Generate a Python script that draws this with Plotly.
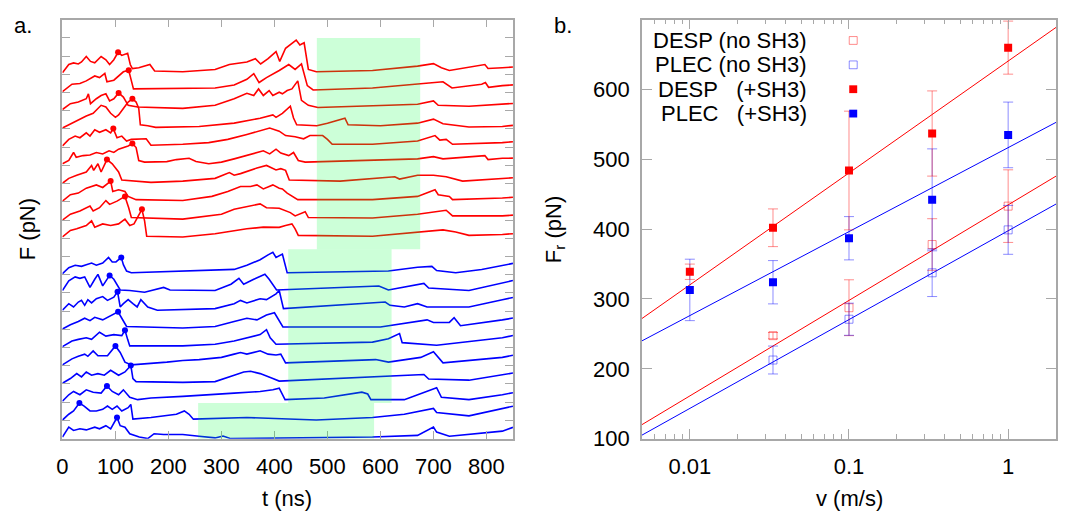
import plotly.graph_objects as go

# ---------------- panel a: stacked force traces (t in ns, F in tick units) ----------------
R9_t = [0, 12, 21, 30, 36, 45, 53, 61, 73, 82, 89, 97, 105, 112, 123, 128, 132, 144, 165, 174, 227, 288, 315, 348, 364, 374, 388, 403, 410, 421, 441, 448, 456, 464, 479, 585, 670, 700, 715, 730, 797, 803, 830, 850]
R9_f = [0.09, 0.54, 0.63, 0.57, 0.68, 0.98, 0.71, 0.63, 0.98, 0.80, 0.54, 0.80, 1.21, 1.04, 1.16, 0.54, 0.32, 0.36, 0.54, 0.18, 0.14, 0.27, 0.54, 0.68, 0.86, 0.57, 0.86, 1.25, 0.71, 1.43, 1.88, 1.61, 1.73, 0.27, 0.14, 0.21, 0.45, 0.59, 0.36, 0.21, 0.54, 0.32, 0.36, 0.40]
R8_t = [0, 18, 33, 45, 61, 70, 80, 84, 97, 115, 125, 134, 288, 324, 348, 361, 371, 385, 409, 427, 439, 451, 462, 473, 585, 664, 718, 735, 791, 798, 804, 830, 850]
R8_f = [0.05, 0.46, 0.50, 0.64, 0.91, 0.82, 1.05, 0.59, 0.68, 1.14, 1.23, 0.20, 0.25, 0.41, 0.73, 1.04, 0.55, 0.82, 1.21, 1.54, 1.27, 1.57, 0.38, 0.14, 0.25, 0.46, 0.59, 0.25, 0.46, 0.55, 0.29, 0.38, 0.42]
R7_t = [0, 15, 30, 45, 49, 53, 64, 73, 82, 89, 97, 106, 115, 124, 142, 227, 288, 324, 348, 361, 370, 379, 390, 397, 409, 415, 424, 433, 444, 451, 464, 482, 615, 670, 700, 709, 767, 830, 850]
R7_f = [0.07, 0.39, 0.48, 0.66, 0.93, 0.39, 0.66, 0.84, 0.93, 0.54, 0.66, 0.98, 0.75, 0.30, 0.21, 0.13, 0.30, 0.66, 0.96, 0.84, 1.20, 0.84, 1.11, 0.84, 1.02, 0.93, 1.11, 1.20, 1.64, 0.57, 0.30, 0.18, 0.30, 0.36, 0.54, 0.30, 0.25, 0.36, 0.40]
R6_t = [0, 18, 33, 45, 58, 73, 82, 91, 100, 106, 115, 124, 132, 139, 144, 147, 161, 176, 258, 324, 373, 397, 403, 415, 430, 436, 442, 480, 500, 533, 539, 600, 670, 700, 718, 767, 830, 850]
R6_f = [0.05, 0.32, 0.50, 0.71, 0.86, 1.30, 1.21, 0.86, 0.64, 0.77, 1.13, 1.48, 1.66, 1.48, 1.13, 0.23, 0.18, 0.09, 0.14, 0.32, 0.59, 0.77, 0.64, 0.86, 1.25, 0.60, 0.23, 0.18, 0.32, 0.59, 0.23, 0.18, 0.32, 0.54, 0.29, 0.11, 0.14, 0.20]
R5_t = [0, 12, 24, 33, 45, 52, 61, 70, 82, 91, 96, 103, 112, 121, 130, 142, 158, 167, 227, 276, 312, 348, 373, 391, 409, 421, 439, 455, 467, 491, 500, 509, 585, 670, 703, 712, 724, 736, 830, 850]
R5_f = [0.07, 0.43, 0.61, 0.52, 0.79, 0.61, 0.96, 0.82, 0.96, 0.79, 1.02, 0.52, 0.61, 0.34, 0.43, 0.43, 0.46, 0.11, 0.16, 0.25, 0.43, 0.70, 0.88, 1.05, 0.88, 0.64, 0.57, 0.46, 0.64, 0.64, 0.43, 0.16, 0.16, 0.34, 0.64, 0.39, 0.43, 0.16, 0.25, 0.30]
R4_t = [0, 12, 21, 26, 39, 52, 64, 76, 88, 97, 106, 115, 124, 132, 139, 144, 155, 197, 215, 239, 252, 276, 300, 324, 348, 379, 391, 403, 412, 427, 436, 445, 458, 585, 670, 700, 718, 797, 803, 830, 850]
R4_f = [0.09, 0.27, 0.71, 0.45, 0.54, 0.57, 0.71, 0.63, 0.80, 0.71, 0.89, 0.98, 1.07, 1.20, 0.98, 0.27, 0.18, 0.21, 0.32, 0.39, 0.21, 0.09, 0.18, 0.36, 0.54, 0.80, 0.63, 0.89, 0.68, 0.54, 0.71, 0.27, 0.18, 0.27, 0.36, 0.48, 0.36, 0.54, 0.32, 0.39, 0.40]
R3_t = [0, 12, 27, 45, 55, 59, 67, 73, 84, 94, 106, 112, 167, 227, 288, 315, 324, 336, 367, 385, 403, 412, 421, 428, 524, 627, 636, 670, 700, 724, 755, 830, 850]
R3_f = [0.02, 0.29, 0.46, 0.64, 1.00, 0.73, 1.09, 0.64, 1.32, 1.09, 0.64, 0.20, 0.07, 0.14, 0.29, 0.61, 0.46, 0.55, 0.86, 1.00, 0.75, 0.82, 0.73, 0.20, 0.14, 0.38, 0.25, 0.46, 0.46, 0.38, 0.14, 0.29, 0.32]
R2_t = [0, 15, 30, 45, 64, 76, 91, 95, 106, 118, 124, 139, 227, 282, 312, 336, 355, 367, 379, 397, 409, 415, 424, 444, 585, 670, 703, 709, 730, 736, 830, 850]
R2_f = [0.04, 0.39, 0.48, 0.75, 0.93, 0.79, 1.14, 0.57, 0.66, 0.57, 0.30, 0.12, 0.07, 0.30, 0.57, 0.84, 0.84, 0.93, 0.71, 0.93, 0.75, 0.71, 0.48, 0.12, 0.12, 0.30, 0.66, 0.39, 0.30, 0.12, 0.21, 0.25]
R1_t = [0, 15, 33, 52, 58, 70, 82, 89, 103, 118, 125, 130, 227, 300, 324, 355, 373, 385, 409, 430, 439, 458, 464, 585, 670, 724, 736, 830, 850]
R1_f = [0.00, 0.32, 0.50, 0.77, 0.50, 0.68, 1.07, 0.86, 1.04, 1.30, 0.68, 0.14, 0.05, 0.32, 0.59, 0.77, 0.89, 0.68, 0.65, 0.41, 0.23, 0.46, 0.14, 0.11, 0.32, 0.54, 0.23, 0.23, 0.27]
R0_t = [0, 15, 27, 45, 55, 61, 76, 91, 106, 118, 127, 135, 150, 155, 159, 227, 288, 348, 379, 409, 421, 433, 439, 445, 585, 670, 718, 742, 767, 830, 850]
R0_f = [0.07, 0.43, 0.52, 0.70, 0.96, 0.61, 0.79, 0.70, 0.79, 1.05, 0.70, 0.79, 1.59, 0.96, 0.11, 0.07, 0.25, 0.52, 0.61, 0.60, 0.70, 0.79, 0.52, 0.16, 0.11, 0.34, 0.46, 0.34, 0.16, 0.21, 0.25]

B9_t = [0, 12, 24, 36, 45, 55, 64, 76, 87, 94, 101, 111, 115, 121, 130, 227, 324, 348, 373, 388, 397, 403, 415, 424, 615, 670, 697, 706, 742, 791, 830, 850]
B9_f = [0.05, 0.38, 0.52, 0.46, 0.55, 0.64, 0.52, 0.64, 0.95, 0.70, 0.70, 0.95, 0.55, 0.20, 0.11, 0.20, 0.29, 0.52, 0.82, 1.09, 1.23, 0.95, 1.13, 0.11, 0.20, 0.41, 0.46, 0.23, 0.11, 0.29, 0.52, 0.62]
B8_t = [0, 12, 24, 33, 42, 52, 61, 67, 76, 89, 97, 109, 127, 155, 191, 203, 288, 318, 333, 342, 361, 382, 390, 404, 597, 615, 682, 691, 767, 830, 850]
B8_f = [0.13, 0.66, 0.88, 0.80, 0.88, 0.30, 0.75, 1.02, 0.39, 0.96, 0.75, 0.16, 0.13, 0.04, 0.30, 0.16, 0.13, 0.48, 0.80, 0.48, 0.75, 1.02, 0.75, 0.16, 0.38, 0.16, 0.52, 0.27, 0.13, 0.55, 0.68]
B7_t = [0, 12, 21, 30, 36, 42, 48, 55, 64, 76, 85, 97, 104, 109, 115, 124, 133, 141, 148, 161, 179, 288, 324, 336, 348, 373, 385, 403, 409, 417, 609, 618, 645, 670, 688, 767, 830, 850]
B7_f = [0.05, 0.41, 0.23, 0.50, 0.59, 0.32, 0.63, 0.45, 0.68, 0.80, 0.59, 0.77, 1.07, 0.23, 0.41, 0.63, 0.41, 0.23, 0.63, 0.23, 0.05, 0.14, 0.41, 0.59, 0.45, 0.68, 0.63, 0.95, 1.13, 0.14, 0.50, 0.32, 0.23, 0.41, 0.23, 0.23, 0.63, 0.75]
B6_t = [0, 15, 30, 42, 52, 61, 76, 91, 105, 112, 121, 227, 288, 324, 348, 367, 385, 400, 409, 416, 600, 688, 700, 730, 739, 751, 830, 850]
B6_f = [0.02, 0.25, 0.43, 0.61, 0.48, 0.66, 0.52, 0.73, 0.96, 0.61, 0.16, 0.07, 0.16, 0.43, 0.61, 0.52, 0.79, 0.91, 0.48, 0.13, 0.13, 0.52, 0.38, 0.38, 0.64, 0.20, 0.52, 0.62]
B5_t = [0, 18, 30, 45, 55, 70, 82, 97, 112, 118, 123, 127, 227, 288, 324, 348, 373, 385, 392, 403, 585, 615, 636, 641, 706, 830, 850]
B5_f = [0.05, 0.36, 0.45, 0.54, 0.45, 0.84, 0.63, 0.71, 0.66, 0.95, 0.45, 0.09, 0.09, 0.18, 0.36, 0.54, 0.71, 0.98, 0.54, 0.18, 0.30, 0.48, 0.77, 0.27, 0.13, 0.54, 0.66]
B4_t = [0, 18, 30, 42, 48, 58, 67, 85, 100, 109, 118, 130, 197, 227, 258, 300, 324, 336, 348, 373, 388, 403, 412, 421, 591, 615, 676, 700, 718, 830, 850]
B4_f = [0.05, 0.38, 0.52, 0.64, 0.52, 0.82, 0.55, 0.55, 1.09, 0.73, 0.20, 0.05, 0.20, 0.29, 0.34, 0.46, 0.64, 0.73, 0.64, 0.82, 0.64, 0.59, 0.64, 0.16, 0.34, 0.20, 0.46, 0.77, 0.16, 0.46, 0.58]
B3_t = [0, 15, 27, 36, 45, 55, 67, 79, 91, 106, 118, 129, 133, 139, 227, 288, 324, 342, 355, 373, 397, 409, 682, 691, 767, 830, 850]
B3_f = [0.04, 0.30, 0.57, 0.39, 0.66, 0.48, 0.57, 0.48, 0.75, 0.48, 0.66, 1.02, 0.30, 0.13, 0.09, 0.13, 0.48, 0.66, 0.70, 0.57, 0.30, 0.16, 0.52, 0.27, 0.21, 0.48, 0.60]
B2_t = [0, 12, 21, 33, 45, 58, 73, 84, 94, 106, 115, 127, 142, 167, 227, 288, 324, 373, 397, 409, 420, 494, 555, 565, 576, 582, 645, 706, 715, 767, 830, 850]
B2_f = [0.05, 0.41, 0.59, 0.41, 0.68, 0.55, 0.50, 0.89, 0.59, 0.41, 0.68, 0.27, 0.14, 0.23, 0.32, 0.41, 0.50, 0.59, 0.68, 0.77, 0.14, 0.23, 0.50, 0.55, 0.45, 0.14, 0.14, 0.80, 0.27, 0.14, 0.41, 0.52]
B1_t = [0, 12, 21, 32, 41, 52, 64, 76, 85, 94, 103, 112, 124, 129, 133, 167, 215, 230, 239, 247, 348, 479, 585, 645, 700, 706, 767, 830, 850]
B1_f = [0.02, 0.34, 0.52, 0.95, 0.79, 0.52, 0.52, 0.61, 0.79, 0.61, 0.79, 0.52, 0.70, 0.88, 0.07, 0.16, 0.34, 0.52, 0.34, 0.07, 0.16, 0.02, 0.16, 0.34, 0.66, 0.43, 0.25, 0.66, 0.78]
B0_t = [0, 12, 21, 33, 45, 61, 70, 82, 91, 103, 109, 118, 127, 145, 161, 173, 191, 227, 258, 288, 303, 318, 585, 670, 700, 706, 730, 830, 850]
B0_f = [0.09, 0.63, 0.45, 0.54, 0.48, 0.63, 0.54, 0.71, 0.54, 1.16, 0.71, 0.63, 0.27, 0.09, 0.00, 0.27, 0.23, 0.23, 0.13, 0.04, 0.14, 0.00, 0.09, 0.18, 0.63, 0.36, 0.13, 0.41, 0.62]

# vertical stacking offsets (bottom trace first)
red_offsets = [11, 12, 13, 14, 15, 16, 17, 18, 19, 20]
blue_offsets = [0, 1, 2, 3, 4, 5, 6, 7, 8, 9]

# rupture points marked with dots
red_dot_t = [150, 118, 91, 84, 132, 96, 132, 106, 125, 105]
red_dot_f = [1.59, 1.30, 1.14, 1.32, 1.20, 1.02, 1.66, 0.98, 1.23, 1.21]
blue_dot_t = [103, 32, 84, 129, 100, 118, 105, 104, 89, 111]
blue_dot_f = [1.16, 0.95, 0.89, 1.02, 1.09, 0.95, 0.96, 1.07, 0.96, 0.95]

# shaded windows: [t0, t1, F0, F1]
shade_red = [480, 675, 10.4, 22.0]
shade_blue1 = [426, 621, 1.96, 10.4]
shade_blue2 = [256, 588, 0.0, 1.96]

# ---------------- panel b: rupture force vs pulling speed ----------------
v_all = [0.01, 0.0333, 0.1, 0.333, 1]
v_nosh3 = [0.0333, 0.1, 0.333, 1]
desp_sh3 = [339, 402, 484, 537, 660]
desp_sh3_err = [11, 27, 85, 61, 38]
plec_sh3 = [313, 324, 387, 442, 535]
plec_sh3_err = [44, 31, 31, 73, 47]
desp_no = [247.5, 287.5, 378, 433]
desp_no_err = [4.5, 40, 37, 52]
plec_no = [212.6, 271, 337.5, 399]
plec_no_err = [20, 23, 34, 35]

fit_v = [0.005, 2]
fit_desp_sh3 = [272, 689]
fit_plec_sh3 = [240, 553]
fit_desp_no = [120, 476]
fit_plec_no = [105, 436]

# the page adds an 8px left margin; positions below are page pixels
OFF = 8
W, H = 1068 - OFF, 519
def fx(p):
    return (p - OFF) / W
def fy(p):
    return 1 - p / H

FONT = "Liberation Sans, Arial, sans-serif"
FS = 22
RED = "#ff0000"
BLUE = "#0000ff"
RED_L = "rgba(255,0,0,0.45)"
BLUE_L = "rgba(0,0,255,0.45)"
FRAME = "#a8a8a8"

red_traces = [(R0_t, R0_f), (R1_t, R1_f), (R2_t, R2_f), (R3_t, R3_f), (R4_t, R4_f),
              (R5_t, R5_f), (R6_t, R6_f), (R7_t, R7_f), (R8_t, R8_f), (R9_t, R9_f)]
blue_traces = [(B0_t, B0_f), (B1_t, B1_f), (B2_t, B2_f), (B3_t, B3_f), (B4_t, B4_f),
               (B5_t, B5_f), (B6_t, B6_f), (B7_t, B7_f), (B8_t, B8_f), (B9_t, B9_f)]

fig = go.Figure()

for (tt, ff), off in zip(red_traces, red_offsets):
    fig.add_trace(go.Scatter(x=tt, y=[f + off for f in ff], mode="lines",
                             line=dict(color=RED, width=1.6), xaxis="x", yaxis="y",
                             showlegend=False, hoverinfo="skip"))
for (tt, ff), off in zip(blue_traces, blue_offsets):
    fig.add_trace(go.Scatter(x=tt, y=[f + off for f in ff], mode="lines",
                             line=dict(color=BLUE, width=1.6), xaxis="x", yaxis="y",
                             showlegend=False, hoverinfo="skip"))

fig.add_trace(go.Scatter(x=red_dot_t, y=[f + o for f, o in zip(red_dot_f, red_offsets)],
                         mode="markers", marker=dict(color=RED, size=6),
                         xaxis="x", yaxis="y", showlegend=False))
fig.add_trace(go.Scatter(x=blue_dot_t, y=[f + o for f, o in zip(blue_dot_f, blue_offsets)],
                         mode="markers", marker=dict(color=BLUE, size=6),
                         xaxis="x", yaxis="y", showlegend=False))

# fit lines
for yy, col in [(fit_desp_sh3, RED), (fit_plec_sh3, BLUE), (fit_desp_no, RED), (fit_plec_no, BLUE)]:
    fig.add_trace(go.Scatter(x=fit_v, y=yy, mode="lines", line=dict(color=col, width=1),
                             xaxis="x2", yaxis="y2", showlegend=False, hoverinfo="skip"))

def err(arr, col):
    return dict(type="data", array=arr, visible=True, color=col, thickness=1, width=5)

fig.add_trace(go.Scatter(x=v_nosh3, y=desp_no, mode="markers", error_y=err(desp_no_err, RED_L),
                         marker=dict(symbol="square-open", size=8, color=RED_L, line=dict(width=1)),
                         xaxis="x2", yaxis="y2", showlegend=False))
fig.add_trace(go.Scatter(x=v_nosh3, y=plec_no, mode="markers", error_y=err(plec_no_err, BLUE_L),
                         marker=dict(symbol="square-open", size=8, color=BLUE_L, line=dict(width=1)),
                         xaxis="x2", yaxis="y2", showlegend=False))
fig.add_trace(go.Scatter(x=v_all, y=plec_sh3, mode="markers", error_y=err(plec_sh3_err, BLUE_L),
                         marker=dict(symbol="square", size=8, color=BLUE),
                         xaxis="x2", yaxis="y2", showlegend=False))
fig.add_trace(go.Scatter(x=v_all, y=desp_sh3, mode="markers", error_y=err(desp_sh3_err, RED_L),
                         marker=dict(symbol="square", size=8, color=RED),
                         xaxis="x2", yaxis="y2", showlegend=False))

shapes = []
for x0, x1, y0, y1 in [shade_red, shade_blue1, shade_blue2]:
    shapes.append(dict(type="rect", xref="x", yref="y", x0=x0, x1=x1, y0=y0, y1=y1,
                       fillcolor="rgb(0,255,60)", opacity=0.2, line=dict(width=0), layer="above"))

# hand-made key: text right-aligned, symbol to the right
key_text = ["DESP (no SH3)", "PLEC (no SH3)", "DESP\u00a0\u00a0\u00a0(+SH3)", "PLEC\u00a0\u00a0\u00a0(+SH3)"]
key_rows = [33.3, 58.3, 83.3, 108.3]
key_style = [("open", RED_L), ("open", BLUE_L), ("fill", RED), ("fill", BLUE)]
annotations = []
for txt, yr, (kind, col) in zip(key_text, key_rows, key_style):
    annotations.append(dict(text=txt, x=fx(808), y=fy(yr), xref="paper", yref="paper",
                            xanchor="right", yanchor="middle", showarrow=False,
                            font=dict(size=FS, color="black", family=FONT)))
    box = dict(type="rect", xref="paper", yref="paper", x0=fx(848), x1=fx(856),
               y0=fy(yr + 4), y1=fy(yr - 4))
    if kind == "open":
        box["line"] = dict(color=col, width=1)
    else:
        box["fillcolor"] = col
        box["line"] = dict(width=0)
    shapes.append(box)

def note(txt, x, y, angle=0, anchor="center"):
    annotations.append(dict(text=txt, x=fx(x), y=fy(y), xref="paper", yref="paper",
                            xanchor=anchor, yanchor="middle", showarrow=False, textangle=angle,
                            font=dict(size=FS, color="black", family=FONT)))

note("a.", 6, 18, anchor="left")
note("b.", 549, 18, anchor="left")
note("t (ns)", 283, 503)
note("v (m/s)", 848, 503)
note("F (pN)", 21, 227, angle=-90)
note("F<sub>r</sub> (pN)", 552, 227, angle=-90)

axis_common = dict(showline=True, linecolor=FRAME, linewidth=1.5, mirror="ticks",
                   ticks="inside", tickcolor=FRAME, tickwidth=1, showgrid=False, zeroline=False,
                   tickfont=dict(size=FS, color="black", family=FONT))

minor_v = [m * 10 ** e for e in (-3, -2, -1) for m in range(2, 10)] + [2]

y_dom = [fy(441.7), fy(12.0)]

fig.update_layout(
    width=W, height=H, margin=dict(l=0, r=0, t=0, b=0),
    paper_bgcolor="white", plot_bgcolor="white",
    xaxis=dict(domain=[fx(56.7), fx(509.8)], range=[0, 850], tickvals=list(range(0, 900, 100)),
               ticklen=8, ticklabelstandoff=7, **axis_common),
    yaxis=dict(domain=y_dom, range=[0, 23], dtick=1, tick0=0, showticklabels=False,
               ticklen=8, **axis_common),
    xaxis2=dict(domain=[fx(639.5), fx(1056)], type="log", range=[-2.30103, 0.30103],
                tickvals=[0.01, 0.1, 1], ticktext=["0.01", "0.1", "1"], ticklen=10,
                ticklabelstandoff=7,
                minor=dict(tickvals=minor_v, ticks="inside", ticklen=5, tickcolor=FRAME, showgrid=False),
                anchor="y2", **axis_common),
    yaxis2=dict(domain=y_dom, range=[100, 700], tickvals=[100, 200, 300, 400, 500, 600],
                ticklen=10, ticklabelstandoff=6, anchor="x2", **axis_common),
    shapes=shapes, annotations=annotations,
)

fig.write_html("out.html")
